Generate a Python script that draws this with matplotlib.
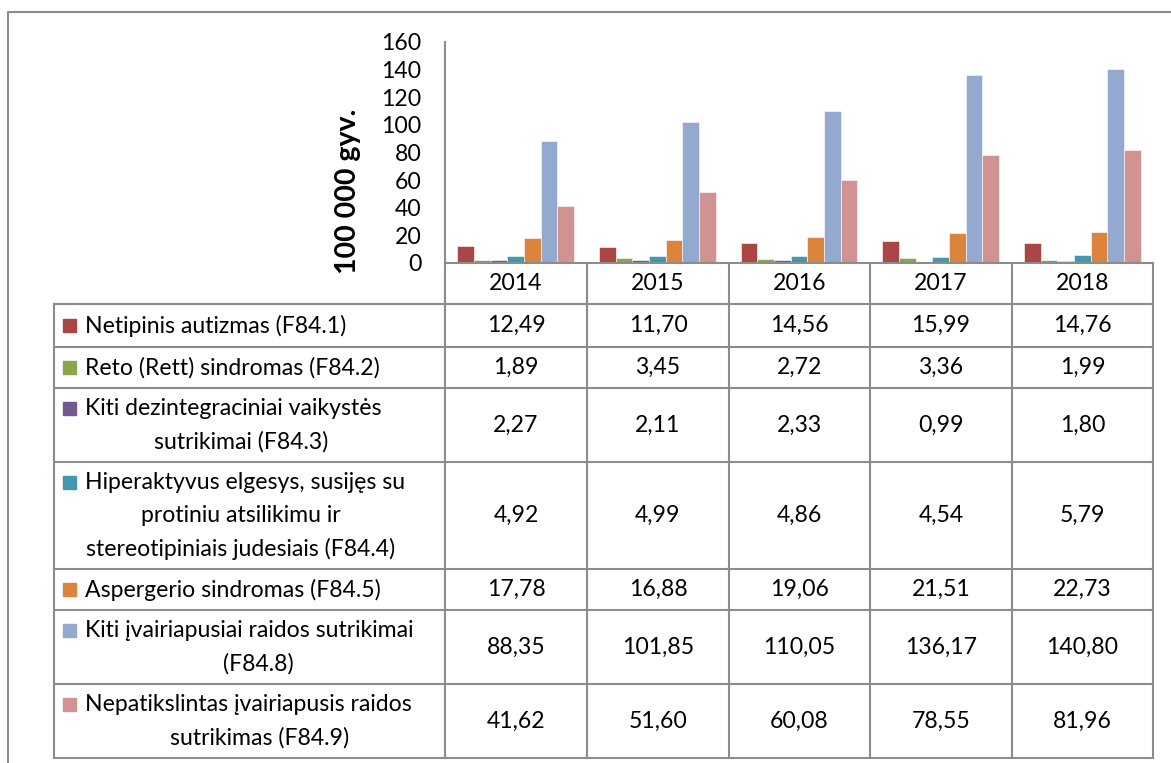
import matplotlib.pyplot as plt
import numpy as np

plt.rcParams['font.family'] = ['Lato', 'DejaVu Sans']

years = ['2014', '2015', '2016', '2017', '2018']
series_names = [
    'Netipinis autizmas (F84.1)',
    'Reto (Rett) sindromas (F84.2)',
    'Kiti dezintegraciniai vaikystės\nsutrikimai (F84.3)',
    'Hiperaktyvus elgesys, susijęs su\nprotiniu atsilikimu ir\nstereotipiniais judesiais (F84.4)',
    'Aspergerio sindromas (F84.5)',
    'Kiti įvairiapusiai raidos sutrikimai\n(F84.8)',
    'Nepatikslintas įvairiapusis raidos\nsutrikimas (F84.9)',
]
f841 = [12.49, 11.70, 14.56, 15.99, 14.76]
f842 = [1.89, 3.45, 2.72, 3.36, 1.99]
f843 = [2.27, 2.11, 2.33, 0.99, 1.80]
f844 = [4.92, 4.99, 4.86, 4.54, 5.79]
f845 = [17.78, 16.88, 19.06, 21.51, 22.73]
f848 = [88.35, 101.85, 110.05, 136.17, 140.80]
f849 = [41.62, 51.60, 60.08, 78.55, 81.96]
series = [f841, f842, f843, f844, f845, f848, f849]
colors = ['#AA4643', '#89A54E', '#71588F', '#4198AF', '#DB843D', '#93A9CF', '#D19392']
y_label = '100 000 gyv.'

# layout in pixels
W, H = 1171, 763
col_x = [445, 587, 729, 870, 1012, 1153]
row_y = [263, 304, 347, 388, 462, 569, 610, 684, 758]
tab_left = 54
plot_top = 42
wrap_center = [None, None, 241, 241, None, 258, 260]
line_gap = 33
grid_c = '#8c8c8c'
fs = 16.6

fig = plt.figure(figsize=(W / 100, H / 100), dpi=100)

# bar chart
ax = fig.add_axes([col_x[0] / W, (H - row_y[0]) / H,
                   (col_x[-1] - col_x[0]) / W, (row_y[0] - plot_top) / H])
x = np.arange(len(years))
n = len(series)
bw = 0.8235 / n
for i, (vals, c) in enumerate(zip(series, colors)):
    ax.bar(x + (i - (n - 1) / 2) * bw, vals, bw, color=c,
           edgecolor='white', linewidth=0.4)
ax.set_xlim(-0.5, len(years) - 0.5)
ax.set_ylim(0, 160)
ax.set_yticks(range(0, 161, 20))
ax.set_xticks([])
ax.tick_params(axis='y', length=0, pad=17, labelsize=fs)
for s in ['top', 'right', 'bottom']:
    ax.spines[s].set_visible(False)
ax.spines['left'].set_color(grid_c)
ax.spines['left'].set_linewidth(1.5)

# overlay in pixel coordinates for the data table
ov = fig.add_axes([0, 0, 1, 1])
ov.set_xlim(0, W)
ov.set_ylim(H, 0)
ov.axis('off')
ov.patch.set_alpha(0)

# outer frame
ov.plot([7.5, 7.5, W], [H, 12, 12], color='#8c8c8c', lw=1.5)

# table grid
ov.plot([col_x[0], col_x[-1]], [row_y[0], row_y[0]], color=grid_c, lw=1.5)
for yy in row_y[1:]:
    ov.plot([tab_left, col_x[-1]], [yy, yy], color=grid_c, lw=1.5)
for xx in col_x:
    ov.plot([xx, xx], [row_y[0], row_y[-1]], color=grid_c, lw=1.5)
ov.plot([tab_left, tab_left], [row_y[1], row_y[-1]], color=grid_c, lw=1.5)

# header
for j, yr in enumerate(years):
    ov.text((col_x[j] + col_x[j + 1]) / 2, (row_y[0] + row_y[1]) / 2, yr,
            ha='center', va='center', fontsize=fs)

# rows
for i, (name, vals, c) in enumerate(zip(series_names, series, colors)):
    y0, y1 = row_y[i + 1], row_y[i + 2]
    yc = (y0 + y1) / 2
    lines = name.split('\n')
    m = len(lines)
    for k, ln in enumerate(lines):
        ly = yc + (k - (m - 1) / 2) * line_gap
        if k == 0:
            ov.add_patch(plt.Rectangle((63, ly - 6.5), 13, 13, color=c))
            ov.text(85, ly, ln, ha='left', va='center', fontsize=fs)
        else:
            ov.text(wrap_center[i], ly, ln, ha='center', va='center', fontsize=fs)
    for j, v in enumerate(vals):
        ov.text((col_x[j] + col_x[j + 1]) / 2, yc, f'{v:.2f}'.replace('.', ','),
                ha='center', va='center', fontsize=fs)

# axis title
ov.text(348, 191, y_label, rotation=90, ha='center', va='center',
        fontsize=20.5, fontweight='bold')

fig.savefig('out.png', dpi=100)
